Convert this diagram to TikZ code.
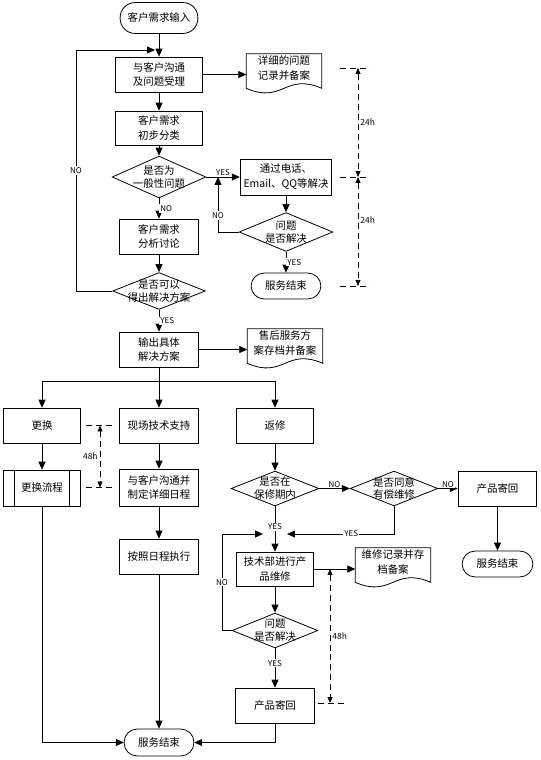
\documentclass[tikz,border=0pt]{standalone}
\usepackage{fontspec}
\setmainfont{Noto Sans CJK SC}
\usetikzlibrary{shapes.geometric,arrows.meta}

\tikzstyle{proc}=[rectangle, draw, align=center, minimum width=79, minimum height=35, inner sep=1pt]
\tikzstyle{term}=[rectangle, draw, rounded corners=13, minimum width=70, minimum height=26]
\tikzstyle{dec}=[diamond, draw, inner sep=0pt]
\tikzstyle{dtext}=[align=center, inner sep=0pt, font=\fontsize{10.5}{13}\selectfont]
\tikzstyle{doc}=[rectangle, align=center, minimum width=75, minimum height=28, inner sep=1pt]
\tikzstyle{yn}=[fill=white, inner sep=1pt, font=\fontsize{8}{9}\selectfont]
\tikzstyle{flow}=[-{Triangle[length=8pt,width=7pt]}]
\tikzstyle{tick}=[dash pattern=on 6pt off 4pt]
\tikzstyle{span}=[tick, {Triangle[length=6pt,width=5pt]}-{Triangle[length=6pt,width=5pt]}]

\newcommand{\docoutline}[1]{\draw ([yshift=-6pt]#1.south west) -- (#1.north west) -- (#1.north east) -- ([yshift=-6pt]#1.south east) .. controls +(-37pt,16pt) and +(37pt,-16pt) .. ([yshift=-6pt]#1.south west) -- cycle;}

\begin{document}
\begin{tikzpicture}[x=1bp, y=-1bp, line width=0.8pt, font=\fontsize{10.5}{15}\selectfont]
\useasboundingbox (0,0) rectangle (541,760);

\node[term, rounded corners=15, minimum width=78, minimum height=31](t1) at (159,18) {客户需求输入};
\node[proc, minimum width=88](b1) at (159,74.5) {与客户沟通\\及问题受理};
\node[doc](f1) at (284,68) {详细的问题\\记录并备案};
\node[proc, minimum width=88, minimum height=34](b2) at (159,128) {客户需求\\初步分类};
\node[dec, minimum width=94, minimum height=42, label={[dtext]center:是否为\\一般性问题}](d1) at (159,177) {};
\node[proc, minimum width=92, minimum height=36](b3) at (286,177) {通过电话、\\Email、QQ等解决};
\node[dec, minimum width=94, minimum height=39, label={[dtext]center:问题\\是否解决}](d3) at (286,232) {};
\node[term](e1) at (286,286) {服务结束};
\node[proc](b4) at (159,236.5) {客户需求\\分析讨论};
\node[dec, minimum width=93, minimum height=37, label={[dtext]center:是否可以\\得出解决方案}](d2) at (159,291) {};
\node[proc](b5) at (159,349.5) {输出具体\\解决方案};
\node[doc](f2) at (285,343) {售后服务方\\案存档并备案};

\node[proc, minimum width=78](b6) at (42,425.5) {更换};
\node[proc](b7) at (159,425.5) {现场技术支持};
\node[proc, minimum width=78](b8) at (275,425.5) {返修};
\node[proc, minimum width=78, minimum height=36](p1) at (42,488) {更换流程};
\node[proc, minimum height=37](b9) at (159,487.5) {与客户沟通并\\制定详细日程};
\node[proc](b10) at (159,556.5) {按照日程执行};
\node[dec, minimum width=88, minimum height=35, label={[dtext]center:是否在\\保修期内}](d4) at (275,488.5) {};
\node[dec, minimum width=88, minimum height=35, label={[dtext]center:是否同意\\有偿维修}](d5) at (394,488.5) {};
\node[proc](b11) at (497.5,488.5) {产品寄回};
\node[term, minimum width=71](e2) at (497.5,564) {服务结束};
\node[proc, minimum width=78, minimum height=34](b12) at (275,569) {技术部进行产\\品维修};
\node[doc](f3) at (393,562) {维修记录并存\\档备案};
\node[dec, minimum width=86, minimum height=35, label={[dtext]center:问题\\是否解决}](d6) at (275,630.5) {};
\node[proc](b13) at (275,705.5) {产品寄回};
\node[term, minimum height=27](e3) at (159,742.5) {服务结束};

\docoutline{f1}
\docoutline{f2}
\docoutline{f3}
\draw ([xshift=12pt]p1.north west) -- ([xshift=12pt]p1.south west);
\draw ([xshift=-12pt]p1.north east) -- ([xshift=-12pt]p1.south east);

\coordinate (j1) at (155,50);
\coordinate (c1) at (76,50);
\coordinate (j2) at (218,177);
\coordinate (s0) at (159,381);
\coordinate (c2) at (222,534);
\coordinate (j3) at (263,534);
\coordinate (j4) at (287,534);

\begin{scope}[every node/.style={yn}]
       \draw[flow] (t1) -- (b1);
       \draw[flow] (b1.east) -- (b1.east -| f1.west);
       \draw[flow] (b1) -- (b2);
       \draw[flow] (b2) -- (d1);
       \draw[flow] (d1) -- node[above]{YES} (b3);
       \draw[flow] (b3) -- (d3);
       \draw[flow] (d3.west) -| node[pos=0.65]{NO} (j2);
       \draw[flow] (d3) -- node[right]{YES} (e1);
       \draw[flow] (d1) -- node[right]{NO} (b4);
       \draw[flow] (b4) -- (d2);
       \draw[flow] (d2.west) -| node[pos=0.75]{NO} (c1) -- (j1);
       \draw[flow] (d2) -- node[right]{YES} (b5);
       \draw[flow] (b5.east) -- (b5.east -| f2.west);
       \draw (b5) -- (s0);
       \draw[flow] (s0) -| (b6);
       \draw[flow] (s0) -- (b7);
       \draw[flow] (s0) -| (b8);
       \draw[flow] (b6) -- (p1);
       \draw[flow] (b7) -- (b9);
       \draw[flow] (b9) -- (b10);
       \draw[flow] (b8) -- (d4);
       \draw[flow] (d4) -- node[above]{NO} (d5);
       \draw[flow] (d5) -- node[above]{NO} (b11);
       \draw[flow] (b11) -- (e2);
       \draw[flow] (d4) -- node[pos=0.45]{YES} (b12);
       \draw[flow] (d5.south) |- node[pos=0.7]{YES} (j4);
       \draw[flow] (d6.west) -| node[pos=0.75]{NO} (c2) -- (j3);
       \draw[flow] (b12.east) -- (b12.east -| f3.west);
       \draw[flow] (b12) -- (d6);
       \draw[flow] (d6) -- node[pos=0.38]{YES} (b13);
       \draw[flow] (p1) |- (e3);
       \draw[flow] (b10) -- (e3);
       \draw[flow] (b13) |- (e3);
\end{scope}

\coordinate (v1) at (358,68);
\coordinate (v2) at (358,177);
\coordinate (v3) at (358,286);
\coordinate (v4) at (100,425.5);
\coordinate (v5) at (100,487.5);
\coordinate (v6) at (330,569);
\coordinate (v7) at (330,703);

\begin{scope}[every node/.style={inner sep=2pt, font=\fontsize{8.5}{10}\selectfont}]
       \draw[tick] ([xshift=-18pt]v1) -- ([xshift=12pt]v1);
       \draw[tick] ([xshift=-18pt]v2) -- ([xshift=12pt]v2);
       \draw[tick] ([xshift=-18pt]v3) -- ([xshift=12pt]v3);
       \draw[span] (v1) -- node[right]{24h} (v2);
       \draw[span] (v2) -- node[right, pos=0.4]{24h} (v3);
       \draw[tick] ([xshift=-14pt]v4) -- ([xshift=15pt]v4);
       \draw[tick] ([xshift=-14pt]v5) -- ([xshift=15pt]v5);
       \draw[span] (v4) -- node[left]{48h} (v5);
       \draw[tick] ([xshift=-12pt]v7) -- ([xshift=17pt]v7);
       \draw[span] (v6) -- node[right]{48h} (v7);
\end{scope}
\end{tikzpicture}
\end{document}
